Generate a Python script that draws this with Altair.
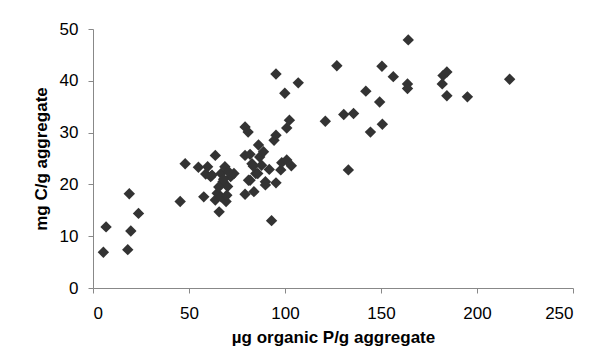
import altair as alt
import pandas as pd

p_org = [5.4, 6.8, 18.1, 18.9, 19.7, 23.7, 45.4, 48.0,
         54.9, 57.7, 58.7, 59.7, 61.3, 63.7, 64.7, 65.7, 66.7, 67.7, 68.7, 69.3,
         70.1, 71.7, 73.4, 63.7, 66.7, 69.7, 65.5, 70.5, 68.0, 62.0,
         79.2, 80.8, 79.2, 81.8, 79.2, 81.8, 82.8, 83.8, 84.8, 86.2,
         86.8, 87.8, 88.8, 89.8, 89.8, 91.8, 93.0, 95.3, 94.3, 95.3,
         95.3, 97.8, 98.3, 99.9, 100.9, 100.9, 102.3, 103.3, 106.9, 85.8,
         83.5, 81.0,
         121.0, 127.0, 130.6, 135.7, 133.0, 142.1, 144.5, 149.3, 150.5, 150.7,
         156.4, 164.2, 163.8, 163.8, 181.9, 182.3, 184.3, 184.3, 195.0, 217.0]
c_mg = [6.9, 11.8, 7.4, 18.2, 11.0, 14.4, 16.7, 24.0,
        23.3, 17.6, 22.0, 23.4, 21.5, 25.6, 18.3, 14.7, 22.1, 20.5, 23.4, 16.7,
        19.6, 21.5, 22.1, 17.0, 17.6, 17.9, 19.5, 22.5, 21.0, 21.8,
        31.1, 30.1, 25.6, 25.8, 18.1, 20.8, 24.0, 18.6, 22.1, 27.6,
        25.3, 23.7, 26.3, 20.5, 19.9, 22.9, 13.0, 20.3, 28.5, 29.5,
        41.3, 22.8, 24.2, 37.6, 30.9, 24.7, 32.4, 23.6, 39.6, 22.1,
        23.5, 20.8,
        32.2, 42.9, 33.5, 33.7, 22.8, 38.0, 30.1, 35.9, 42.8, 31.6,
        40.8, 47.9, 39.4, 38.5, 39.4, 41.0, 41.7, 37.1, 36.9, 40.3]

x_ticks = [0, 50, 100, 150, 200, 250]
y_ticks = [0, 10, 20, 30, 40, 50]

df = pd.DataFrame({"p": p_org, "c": c_mg})

font = "Liberation Sans"

chart = alt.Chart(df).mark_point(
    shape="diamond", filled=True, color="#333333", opacity=1, size=130
).encode(
    x=alt.X("p:Q", scale=alt.Scale(domain=[0, 250], nice=False),
            axis=alt.Axis(values=x_ticks, title="µg organic P/g aggregate",
                          grid=False, domainColor="#888888", tickColor="#888888",
                          tickSize=5, labelPadding=12, titlePadding=8)),
    y=alt.Y("c:Q", scale=alt.Scale(domain=[0, 50], nice=False),
            axis=alt.Axis(values=y_ticks, title="mg C/g aggregate",
                          grid=False, domainColor="#888888", tickColor="#888888",
                          tickSize=5, labelPadding=10, titlePadding=9)),
).properties(
    width=480, height=259,
    autosize=alt.AutoSizeParams(type="none"),
    padding={"left": 85, "top": 21, "right": 20, "bottom": 62},
).configure_view(stroke=None).configure_axis(
    labelFont=font, titleFont=font, labelFontSize=17, titleFontSize=17,
    labelColor="#000000", titleColor="#000000", titleFontWeight="bold",
)

chart.save("out.html", embed_options={"renderer": "svg", "actions": False})
